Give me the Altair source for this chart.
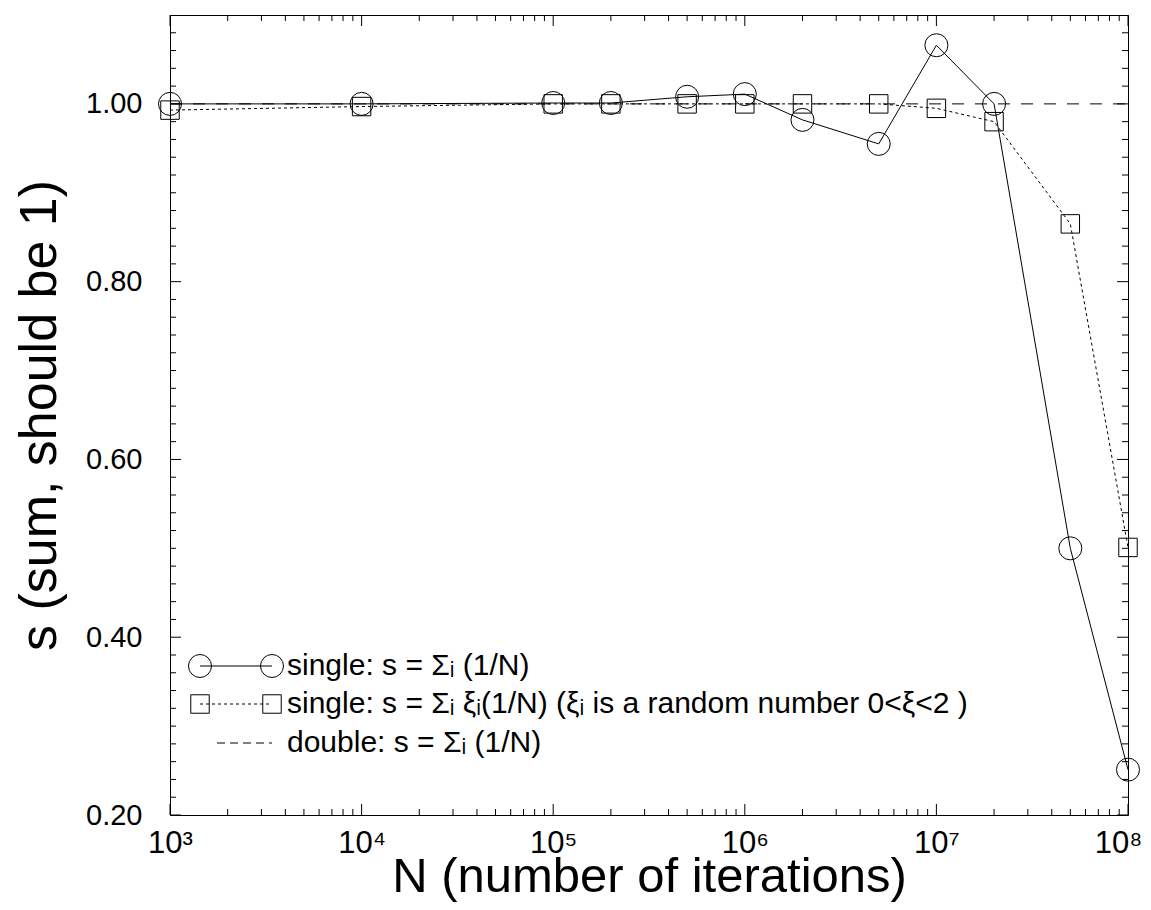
import altair as alt
import pandas as pd

# ---------------- data ----------------
N_VALUES = [1e3, 1e4, 1e5, 2e5, 5e5, 1e6, 2e6, 5e6, 1e7, 2e7, 5e7, 1e8]
S_SINGLE = [1.000, 1.000, 1.001, 1.001, 1.008, 1.011, 0.982, 0.955, 1.066, 1.000, 0.500, 0.251]
S_RANDOM = [0.993, 0.997, 1.000, 1.000, 1.000, 1.000, 1.000, 1.000, 0.995, 0.980, 0.865, 0.501]
S_DOUBLE = [1.000, 1.000, 1.000, 1.000, 1.000, 1.000, 1.000, 1.000, 1.000, 1.000, 1.000, 1.000]

X_MAJOR = [1e3, 1e4, 1e5, 1e6, 1e7, 1e8]
X_TICK_LABELS = ["10³", "10⁴", "10⁵", "10⁶", "10⁷", "10⁸"]
X_MINOR_MULT = [2, 3, 4, 5, 6, 7, 8, 9]
X_MINOR = [m * d for d in X_MAJOR[:-1] for m in X_MINOR_MULT]
Y_MAJOR = [0.20, 0.40, 0.60, 0.80, 1.00]
Y_MINOR = [0.22, 0.24, 0.26, 0.28, 0.30, 0.32, 0.34, 0.36, 0.38,
           0.42, 0.44, 0.46, 0.48, 0.50, 0.52, 0.54, 0.56, 0.58,
           0.62, 0.64, 0.66, 0.68, 0.70, 0.72, 0.74, 0.76, 0.78,
           0.82, 0.84, 0.86, 0.88, 0.90, 0.92, 0.94, 0.96, 0.98,
           1.02, 1.04, 1.06, 1.08]

LEGEND_LABELS = [
    "single: s = Σᵢ (1/N)",
    "single: s = Σᵢ ξᵢ(1/N) (ξᵢ is a random number 0<ξ<2 )",
    "double: s = Σᵢ (1/N)",
]
X_TITLE = "N (number of iterations)"
Y_TITLE = "s (sum, should be 1)"

# ---------------- layout ----------------
W, H = 958, 800
FONT = "Liberation Sans, Arial, sans-serif"

single_df = pd.DataFrame({"N": N_VALUES, "s": S_SINGLE})
random_df = pd.DataFrame({"N": N_VALUES, "s": S_RANDOM})
double_df = pd.DataFrame({"N": N_VALUES, "s": S_DOUBLE})

label_expr = ""
for v, lab in zip(X_MAJOR, X_TICK_LABELS):
    label_expr += f"abs(datum.value - {v}) < {v * 1e-6} ? '{lab}' : "
label_expr += "''"

xscale = alt.Scale(type="log", domain=[1e3, 1e8], nice=False)
yscale = alt.Scale(domain=[0.2, 1.1], nice=False, zero=False)

xaxis = alt.Axis(values=X_MAJOR, labelExpr=label_expr, ticks=False, tickSize=0,
                 domain=False, grid=False, labelFont=FONT, labelFontSize=31,
                 labelColor="black", labelBaseline="alphabetic", labelPadding=37,
                 labelOffset={"condition": {"test": "datum.value > 5e7", "value": -10},
                              "value": 0},
                 labelFlush=False, labelOverlap=False,
                 titleFont=FONT, titleFontSize=49, titleFontWeight="normal",
                 titleColor="black", titleY=76, titleBaseline="alphabetic")
yaxis = alt.Axis(values=Y_MAJOR, format=".2f", ticks=False, tickSize=0,
                 domain=False, grid=False, labelFont=FONT, labelFontSize=29,
                 labelColor="black", labelPadding=28, labelFlush=False,
                 labelOverlap=False,
                 titleFont=FONT, titleFontSize=52, titleFontWeight="normal",
                 titleColor="black", titleX=-115, titleY=H / 2, titleAngle=270,
                 titleAlign="center", titleBaseline="alphabetic")

X = alt.X("N:Q", scale=xscale, axis=xaxis, title=X_TITLE)
Y = alt.Y("s:Q", scale=yscale, axis=yaxis, title=Y_TITLE)

double_line = alt.Chart(double_df).mark_line(
    color="black", strokeWidth=1, strokeDash=[12, 11]).encode(x=X, y=Y)

random_line = alt.Chart(random_df).mark_line(
    color="black", strokeWidth=1, strokeDash=[3, 3]).encode(x="N:Q", y="s:Q")
random_pts = alt.Chart(random_df).mark_point(
    shape="square", size=340, filled=False, color="black", strokeWidth=1,
    opacity=1).encode(x="N:Q", y="s:Q")

single_line = alt.Chart(single_df).mark_line(
    color="black", strokeWidth=1).encode(x="N:Q", y="s:Q")
single_pts = alt.Chart(single_df).mark_point(
    shape="circle", size=530, filled=False, color="black", strokeWidth=1,
    opacity=1).encode(x="N:Q", y="s:Q")

# ---------------- inward ticks on all four sides ----------------
MAJ, MIN = 11, 6
xmaj_df = pd.DataFrame({"N": X_MAJOR})
xmin_df = pd.DataFrame({"N": X_MINOR})
ymaj_df = pd.DataFrame({"s": Y_MAJOR})
ymin_df = pd.DataFrame({"s": Y_MINOR})


def xticks(df, length):
    bottom = alt.Chart(df).mark_rule(color="black", strokeWidth=1).encode(
        x="N:Q", y=alt.value(H), y2=alt.value(H - length))
    top = alt.Chart(df).mark_rule(color="black", strokeWidth=1).encode(
        x="N:Q", y=alt.value(0), y2=alt.value(length))
    return [bottom, top]


def yticks(df, length):
    left = alt.Chart(df).mark_rule(color="black", strokeWidth=1).encode(
        y="s:Q", x=alt.value(0), x2=alt.value(length))
    right = alt.Chart(df).mark_rule(color="black", strokeWidth=1).encode(
        y="s:Q", x=alt.value(W), x2=alt.value(W - length))
    return [left, right]


tick_layers = xticks(xmaj_df, MAJ) + xticks(xmin_df, MIN) + yticks(ymaj_df, MAJ) + yticks(ymin_df, MIN)

# ---------------- legend drawn inside the plot ----------------
one = pd.DataFrame({"k": [0]})
ROW_Y = [651, 689, 728]
SX1, SX2, TX = 30, 102, 117

leg = []
# row 1: circle - solid - circle
leg.append(alt.Chart(one).mark_rule(color="black", strokeWidth=1).encode(
    x=alt.value(SX1), x2=alt.value(SX2), y=alt.value(ROW_Y[0])))
for sx in (SX1, SX2):
    leg.append(alt.Chart(one).mark_point(shape="circle", size=530, filled=False,
                                         color="black", strokeWidth=1, opacity=1).encode(
        x=alt.value(sx), y=alt.value(ROW_Y[0])))
# row 2: square - dotted - square
leg.append(alt.Chart(one).mark_rule(color="black", strokeWidth=1, strokeDash=[3, 3]).encode(
    x=alt.value(SX1), x2=alt.value(SX2), y=alt.value(ROW_Y[1])))
for sx in (SX1, SX2):
    leg.append(alt.Chart(one).mark_point(shape="square", size=340, filled=False,
                                         color="black", strokeWidth=1, opacity=1).encode(
        x=alt.value(sx), y=alt.value(ROW_Y[1])))
# row 3: dashed
leg.append(alt.Chart(one).mark_rule(color="black", strokeWidth=1, strokeDash=[8, 5]).encode(
    x=alt.value(47), x2=alt.value(SX2), y=alt.value(ROW_Y[2])))
for i, lab in enumerate(LEGEND_LABELS):
    leg.append(alt.Chart(one).mark_text(align="left", baseline="middle", font=FONT,
                                        fontSize=30, color="black").encode(
        x=alt.value(TX), y=alt.value(ROW_Y[i]), text=alt.value(lab)))

chart = alt.layer(
    double_line, random_line, random_pts, single_line, single_pts,
    *tick_layers, *leg
).properties(
    width=W, height=H,
    autosize=alt.AutoSizeParams(type="none"),
    padding={"left": 162, "top": 7, "right": 15, "bottom": 87},
    background="white",
).configure_view(stroke="black", strokeWidth=1)

chart.save("out.html", embed_options={"renderer": "svg", "actions": False})
